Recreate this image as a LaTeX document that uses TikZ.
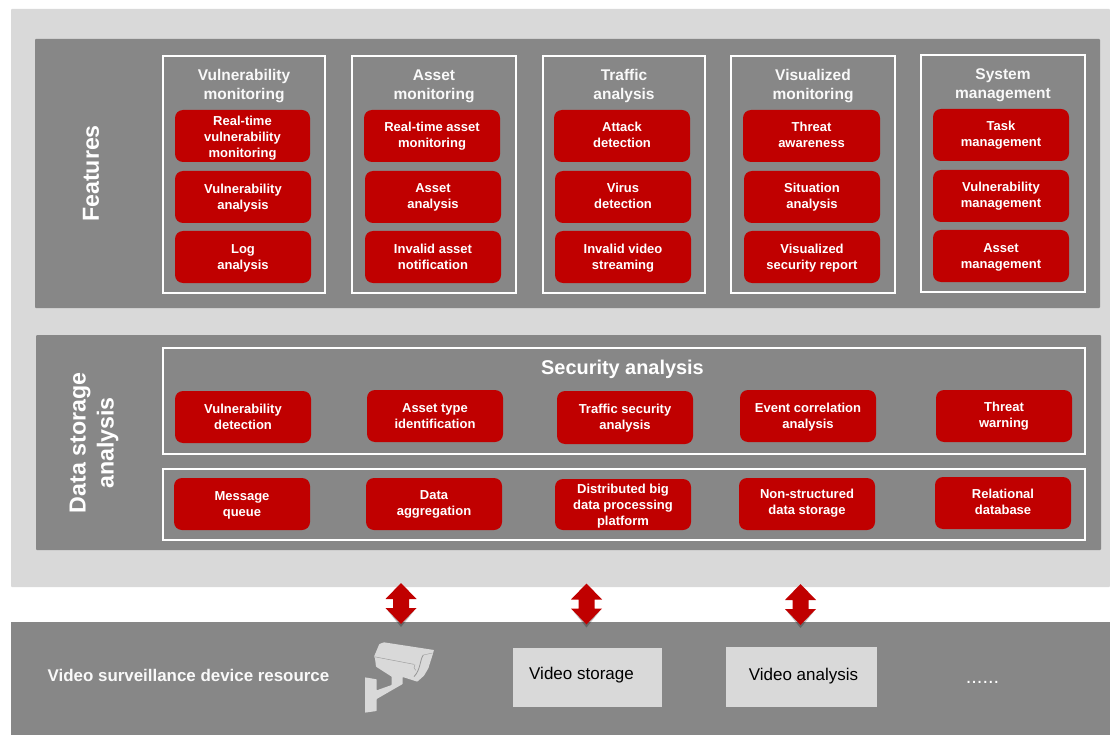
\documentclass[tikz,border=0pt]{standalone}
\usepackage{fontspec}
\setmainfont{Liberation Sans}
\definecolor{lightp}{HTML}{D9D9D9}
\definecolor{darkp}{HTML}{878787}
\definecolor{redb}{HTML}{C00000}
% \redbox[text shift]{name}{x1}{y1}{x2}{y2}{text}
\newcommand{\redbox}[6][0]{\node[redbox,minimum width=#5 pt-#3 pt,minimum height=#6 pt-#4 pt] (#2) at ({(#3+#5)/2},{(#4+#6)/2}) {};
\redtext{#2}{#1}}
\newcommand{\redtext}[3]{\node[redlabel] (#1t) at ([yshift=-1pt*(#2)]#1.center) {#3};}
\newcommand{\frbox}[6]{\node[framebox,minimum width=#4 pt-#2 pt,minimum height=#5 pt-#3 pt] (#1) at ({(#2+#4)/2},{(#3+#5)/2}) {};
\node[headtext,anchor=north] (#1t) at ({(#2+#4)/2},#3+12) {\rule{0pt}{12.5pt}#6};}
\newcommand{\dblarrow}[2]{%
\fill[black,opacity=.25] (#1-13,#2+28) -- (#1+13,#2+28) -- (#1,#2+44) -- cycle;
\fill[redb] (#1,#2) -- ++(15.5,16) -- ++(-7.5,0) -- ++(0,9) -- ++(7.5,0) -- (#1,#2+41) -- ++(-15.5,-16) -- ++(7.5,0) -- ++(0,-9) -- ++(-7.5,0) -- cycle;}
\tikzset{
 x=1pt,y=-1pt,
 panel/.style={fill=darkp,rounded corners=1pt},
 redbox/.style={fill=redb,draw=none,rounded corners=8pt,inner sep=0pt},
 redlabel/.style={text=white,align=center,inner sep=0pt,font=\fontsize{13}{16}\selectfont\bfseries},
 framebox/.style={draw=white,line width=2pt,inner sep=0pt},
 headtext/.style={text=white!95!darkp,align=center,inner sep=0pt,font=\fontsize{15.5}{19}\selectfont\bfseries},
 sidetext/.style={text=white,align=center,rotate=90,inner sep=0pt,font=\fontsize{23.2}{28}\selectfont\bfseries},
 greybox/.style={fill=lightp,draw=none,inner sep=0pt},
 greylabel/.style={inner sep=0pt,font=\fontsize{17}{20}\selectfont},
}
\begin{document}
\begin{tikzpicture}
\useasboundingbox (0,0) rectangle (1110,735);
\fill[lightp,rounded corners=1pt] (11,9) rectangle (1110,587);
\fill[panel] (35,39) rectangle (1100,308);
\fill[panel] (36,335) rectangle (1101,550);
\fill[darkp] (11,622) rectangle (1110,735);
\node[sidetext] (features) at (91,173.5) {Features};
\node[sidetext] (storage) at (94,443) {Data storage\\analysis};
% feature columns
\frbox{c1}{163}{56}{325}{293}{Vulnerability\\monitoring}
\frbox{c2}{352}{56}{516}{293}{Asset\\monitoring}
\frbox{c3}{543}{56}{705}{293}{Traffic\\analysis}
\frbox{c4}{731}{56}{895}{293}{Visualized\\monitoring}
\frbox{c5}{921}{55}{1085}{292}{System\\management}
\redbox[2]{a1}{175}{110}{310}{162}{Real-time\\vulnerability\\monitoring}
\redbox[1]{a2}{175}{171}{311}{223}{Vulnerability\\analysis}
\redbox[1]{a3}{175}{231}{311}{283}{Log\\analysis}
\redbox[0]{b1}{364}{110}{500}{162}{Real-time asset\\monitoring}
\redbox{b2}{365}{171}{501}{223}{Asset\\analysis}
\redbox[0]{b3}{365}{231}{501}{283}{Invalid asset\\notification}
\redbox[-1]{d1}{554}{110}{690}{162}{Attack\\detection}
\redbox[-1]{d2}{555}{171}{691}{223}{Virus\\detection}
\redbox[1]{d3}{555}{231}{691}{283}{Invalid video\\streaming}
\redbox[-1]{e1}{743}{110}{880}{162}{Threat\\awareness}
\redbox{e2}{744}{171}{880}{223}{Situation\\analysis}
\redbox[1]{e3}{744}{231}{880}{283}{Visualized\\security report}
\redbox{f1}{933}{109}{1069}{161}{Task\\management}
\redbox{f2}{933}{170}{1069}{222}{Vulnerability\\management}
\redbox[1]{f3}{933}{230}{1069}{282}{Asset\\management}
% security analysis
\node[framebox,minimum width=922pt,minimum height=106pt] (sa) at (623.5,400.5) {};
\node[inner sep=0pt,text=white,font=\fontsize{19.9}{23}\selectfont\bfseries] (sat) at (622.5,369) {Security analysis};
\redbox{s1}{175}{391}{311}{443}{Vulnerability\\detection}
\redbox{s2}{367}{390}{503}{442}{Asset type\\identification}
\redbox[1]{s3}{557}{391}{693}{444}{Traffic security\\analysis}
\redbox[1]{s4}{740}{390}{876}{442}{Event correlation\\analysis}
\redbox{s5}{936}{390}{1072}{442}{Threat\\warning}
% platform
\node[framebox,minimum width=922pt,minimum height=71pt] (pl) at (623.5,504.5) {};
\redbox[1]{p1}{174}{478}{310}{530}{Message\\queue}
\redbox{p2}{366}{478}{502}{530}{Data\\aggregation}
\redbox[2]{p3}{555}{479}{691}{530}{Distributed big\\data processing\\platform}
\redbox[-1]{p4}{739}{478}{875}{530}{Non-structured\\data storage}
\redbox[-1]{p5}{935}{477}{1071}{529}{Relational\\database}
% arrows
\dblarrow{401}{583}
\dblarrow{586.5}{583.5}
\dblarrow{800.5}{584}
% device row
\node[inner sep=0pt,text=white!95!darkp,font=\fontsize{16.9}{19}\selectfont\bfseries] (vs) at (188.5,675.5) {Video surveillance device resource};
\node[greybox,minimum width=149pt,minimum height=59pt] (vst) at (587.5,677.5) {};
\node[greylabel] (vstt) at (581.5,675) {Video storage};
\node[greybox,minimum width=151pt,minimum height=60pt] (van) at (801,677) {};
\node[greylabel] (vant) at (803.5,676) {Video analysis};
\node[inner sep=0pt,text=white,font=\fontsize{20}{22}\selectfont] (dots) at (982.5,682) {......};
% camera
\begin{scope}[shift={(360,635)},x=0.3333pt,y=-0.3333pt]
\fill[lightp,rounded corners=0.5pt] (42,65) -- (58,27) -- (72,22) -- (222,45) -- (217,62) -- (205,100) -- (192,122) -- (172,140) -- (128,126) -- (128,147) -- (50,192) -- (50,228) -- (15,233) -- (15,127) -- (50,133) -- (50,166) -- (95,150) -- (95,125) -- (48,95) -- (45,70) -- cycle;
\draw[darkp!70!lightp,line width=.5pt] (42,65) -- (162,88);
\draw[darkp!80!lightp,line width=.8pt] (190,60) .. controls (180,72) and (182,105) .. (162,125);
\draw[darkp!70!lightp,line width=.4pt] (190,60) -- (218,54);
\draw[darkp!70!lightp,line width=.5pt] (165,88) .. controls (160,95) and (162,102) .. (167,106);
\end{scope}
\end{tikzpicture}
\end{document}
